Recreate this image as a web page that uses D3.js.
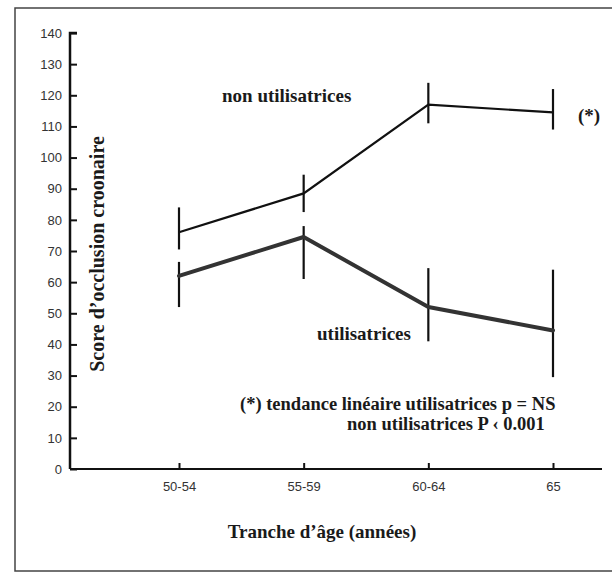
<!DOCTYPE html>
<html>
<head>
<meta charset="utf-8">
<script src="https://cdn.jsdelivr.net/npm/d3@7"></script>
<style>
  html, body { margin: 0; background: #fff; overflow: hidden; }
  svg { display: block; }
</style>
</head>
<body>
<div id="chart-area"></div>
<script>
// data
const ageGroups = ['50-54', '55-59', '60-64', '65'];
const yTicks = [0, 10, 20, 30, 40, 50, 60, 70, 80, 90, 100, 110, 120, 130, 140];

const nonUsers = [76, 88.5, 117, 114.5];
const nonUsersLow = [70.5, 82.5, 111, 109];
const nonUsersHigh = [84, 94.5, 124, 122];

const users = [62, 74.5, 52, 44.5];
const usersLow = [52, 61, 41, 29.5];
const usersHigh = [66.5, 78, 64.5, 64];

const W = 612, H = 573;
const margin = {left: 70, top: 33, right: 10};
const plotH = 436;

const svg = d3.select('#chart-area')
  .append('svg')
  .attr('width', W)
  .attr('height', H);

// frame (right edge runs off the page)
svg.append('path')
  .attr('d', `M${W},8H15V571H${W}`)
  .attr('fill', 'none')
  .attr('stroke', '#444')
  .attr('stroke-width', 1.5);

const g = svg.append('g')
  .attr('transform', `translate(${margin.left}, ${margin.top})`);

const x = d3.scalePoint()
  .domain(ageGroups)
  .range([109, 483]);

const y = d3.scaleLinear()
  .domain([0, 140])
  .range([plotH, 0]);

const sans = 'Liberation Sans, Arial, sans-serif';

// Y Axis
const yAxis = g.append('g')
  .call(d3.axisRight(y).tickValues(yTicks).tickSize(7).tickFormat(d3.format('d')));
yAxis.select('.domain').attr('stroke', '#111').attr('stroke-width', 2.5)
  .attr('d', `M7,0H0V${plotH}`);
yAxis.selectAll('.tick line').attr('stroke', '#111').attr('stroke-width', 2);
yAxis.selectAll('.tick text')
  .attr('x', -8)
  .attr('text-anchor', 'end')
  .attr('font-family', sans)
  .attr('font-size', '13px')
  .attr('fill', '#333');

// X Axis
const xAxis = g.append('g')
  .attr('transform', `translate(0, ${plotH})`)
  .call(d3.axisTop(x).tickSize(6));
xAxis.select('.domain').attr('stroke', '#111').attr('stroke-width', 2)
  .attr('d', `M0,0H532`);
xAxis.selectAll('.tick line').attr('stroke', '#111').attr('stroke-width', 2);
xAxis.selectAll('.tick text')
  .attr('y', 18)
  .attr('dy', '0.32em')
  .attr('font-family', sans)
  .attr('font-size', '13px')
  .attr('fill', '#333');

// error bars
function bars(low, high, cls) {
  g.selectAll('.' + cls)
    .data(ageGroups)
    .join('line')
    .attr('class', cls)
    .attr('x1', d => x(d)).attr('x2', d => x(d))
    .attr('y1', (d, i) => y(high[i]))
    .attr('y2', (d, i) => y(low[i]))
    .attr('stroke', '#111')
    .attr('stroke-width', 2.2);
}
bars(nonUsersLow, nonUsersHigh, 'bar-non');
bars(usersLow, usersHigh, 'bar-users');

const line = d3.line()
  .x((d, i) => x(ageGroups[i]))
  .y(d => y(d));

// non utilisatrices line
g.append('path')
  .datum(nonUsers)
  .attr('d', line)
  .attr('fill', 'none')
  .attr('stroke', '#111')
  .attr('stroke-width', 2.2);

// utilisatrices line (thick)
g.append('path')
  .datum(users)
  .attr('d', line)
  .attr('fill', 'none')
  .attr('stroke', '#333')
  .attr('stroke-width', 4)
  .attr('stroke-linejoin', 'round')
  .attr('stroke-linecap', 'round');

// labels
const serif = 'Liberation Serif, Times New Roman, serif';
function label(txt, lx, ly, anchor, size) {
  svg.append('text')
    .attr('x', lx).attr('y', ly)
    .attr('text-anchor', anchor || 'start')
    .attr('font-family', serif)
    .attr('font-weight', 'bold')
    .attr('font-size', (size || 19) + 'px')
    .attr('fill', '#1a1a1a')
    .text(txt);
}
label('non utilisatrices', 222, 102);
label('utilisatrices', 317, 340);
label('(*)', 578, 122);
label('(*) tendance linéaire utilisatrices p = NS', 240, 410, 'start', 18.5);
label('non utilisatrices P ‹ 0.001', 347, 430, 'start', 18.5);
label('Tranche d’âge (années)', 322, 538, 'middle');

svg.append('text')
  .attr('transform', 'translate(104, 254) rotate(-90)')
  .attr('text-anchor', 'middle')
  .attr('font-family', serif)
  .attr('font-weight', 'bold')
  .attr('font-size', '20px')
  .attr('fill', '#1a1a1a')
  .text('Score d’occlusion croonaire');
</script>
</body>
</html>
